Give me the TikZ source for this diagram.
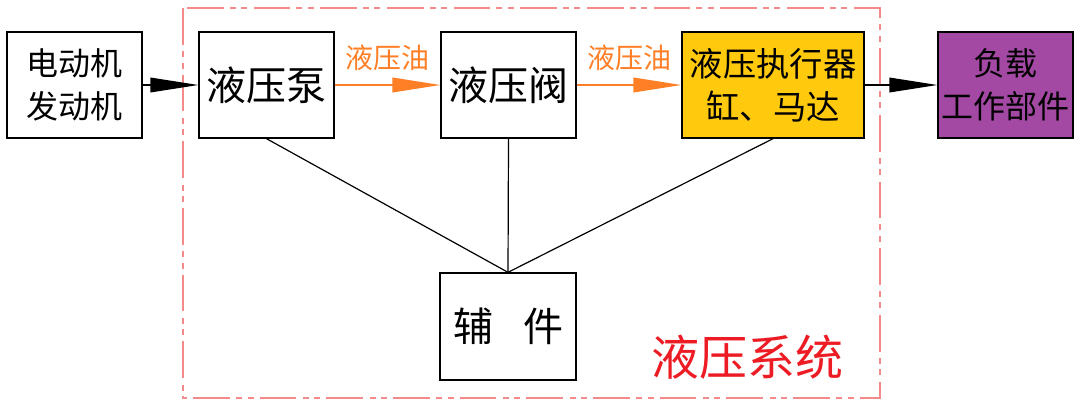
\documentclass[tikz,border=0pt]{standalone}
\usepackage{fontspec}
\setmainfont{Noto Sans CJK SC}
\usetikzlibrary{arrows.meta}
\definecolor{boxyellow}{HTML}{FFC90E}
\definecolor{boxpurple}{HTML}{A349A4}
\definecolor{oilorange}{HTML}{FF7F27}
\definecolor{sysred}{HTML}{ED1C24}
\definecolor{borderred}{HTML}{F58A8A}
\begin{document}
\begin{tikzpicture}[x=0.75pt,y=-0.75pt,
  box/.style={draw=black, line width=1pt, inner sep=0pt, minimum height=79.5pt, minimum width=101.25pt, align=center},
  bigtext/.style={font=\fontsize{30}{36}\selectfont},
  smalltext/.style={font=\fontsize{24}{32}\selectfont},
  blackarrow/.style={draw=black, line width=1pt, -{Triangle[length=36pt,width=11pt]}},
  oilarrow/.style={draw=oilorange, line width=1.2pt, -{Triangle[length=36pt,width=11pt]}},
  oillabel/.style={text=oilorange, font=\fontsize{21}{24}\selectfont, inner sep=0pt},
  link/.style={draw=black, line width=0.9pt},
  sysborder/.style={draw=borderred, line width=1pt, dash pattern=on 27.5pt off 5pt on 4.5pt off 4pt on 4.5pt off 4.5pt}
]
\useasboundingbox (0,0) rectangle (1080,414);
% system border
\draw[sysborder] (183,8) rectangle (880,398);
\node[text=sysred, font=\fontsize{36}{40}\selectfont, inner sep=0pt] (sys) at (747,357) {液压系统};

\node[box, smalltext] (motor) at (74.5,85) {电动机\\发动机};
\node[box, bigtext] (pump) at (266.5,85) {液压泵};
\node[box, bigtext] (valve) at (508.5,85) {液压阀};
\node[box, fill=boxyellow, minimum width=136.5pt, font=\fontsize{25}{32}\selectfont] (act) at (773,85) {液压执行器\\缸、马达};
\node[box, fill=boxpurple, smalltext] (load) at (1005.5,85) {负载\\工作部件};
\node[box, bigtext, minimum width=102pt, minimum height=80.25pt] (aux) at (508,326.5) {辅\hspace{0.75em}件};

\draw[blackarrow] (motor.east) -- (pump.west);
\draw[oilarrow] (pump.east) -- node[oillabel, midway, yshift=20.5pt] (oil1) {液压油} (valve.west);
\draw[oilarrow] (valve.east) -- node[oillabel, midway, yshift=20.5pt] (oil2) {液压油} (act.west);
\draw[blackarrow] (act.east) -- (load.west);

\draw[link] (pump.south) -- (aux.north);
\draw[link] (valve.south) -- (aux.north);
\draw[link] (act.south) -- (aux.north);
\end{tikzpicture}
\end{document}
